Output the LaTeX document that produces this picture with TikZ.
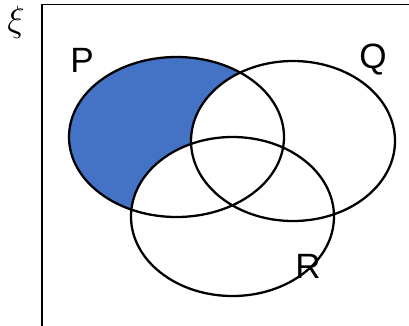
\documentclass[tikz,border=0pt]{standalone}
\usepackage{fontspec}
\setmainfont{Liberation Sans}
\usetikzlibrary{positioning}
\definecolor{pblue}{RGB}{68,114,196}

\begin{document}
\begin{tikzpicture}[
    x=0.02cm, y=-0.02cm,
    set/.style={draw=black, line width=1.3pt},
    setlabel/.style={font=\fontsize{20}{24}\selectfont}
]
\useasboundingbox (0,0) rectangle (409,325);

% universal set
\draw[line width=0.8pt] (42,330) -- (42,4.5) -- (412,4.5);
\node[font=\fontsize{21}{25}\selectfont] (xi) at (16,22) {$\xi$};

% only P shaded
\fill[pblue] (176.5,137) ellipse [x radius=107.5, y radius=80];
\fill[white] (293,141) ellipse [x radius=102, y radius=80];
\fill[white] (232.5,216.5) ellipse [x radius=101.5, y radius=79.5];

% outlines
\draw[set] (176.5,137) ellipse [x radius=107.5, y radius=80];
\draw[set] (293,141) ellipse [x radius=102, y radius=80];
\draw[set] (232.5,216.5) ellipse [x radius=101.5, y radius=79.5];

% labels
\node[setlabel] (p) at (82,60) {P};
\node[setlabel] (q) at (373,60) {Q};
\node[setlabel] (r) at (308,266) {R};

\end{tikzpicture}
\end{document}
